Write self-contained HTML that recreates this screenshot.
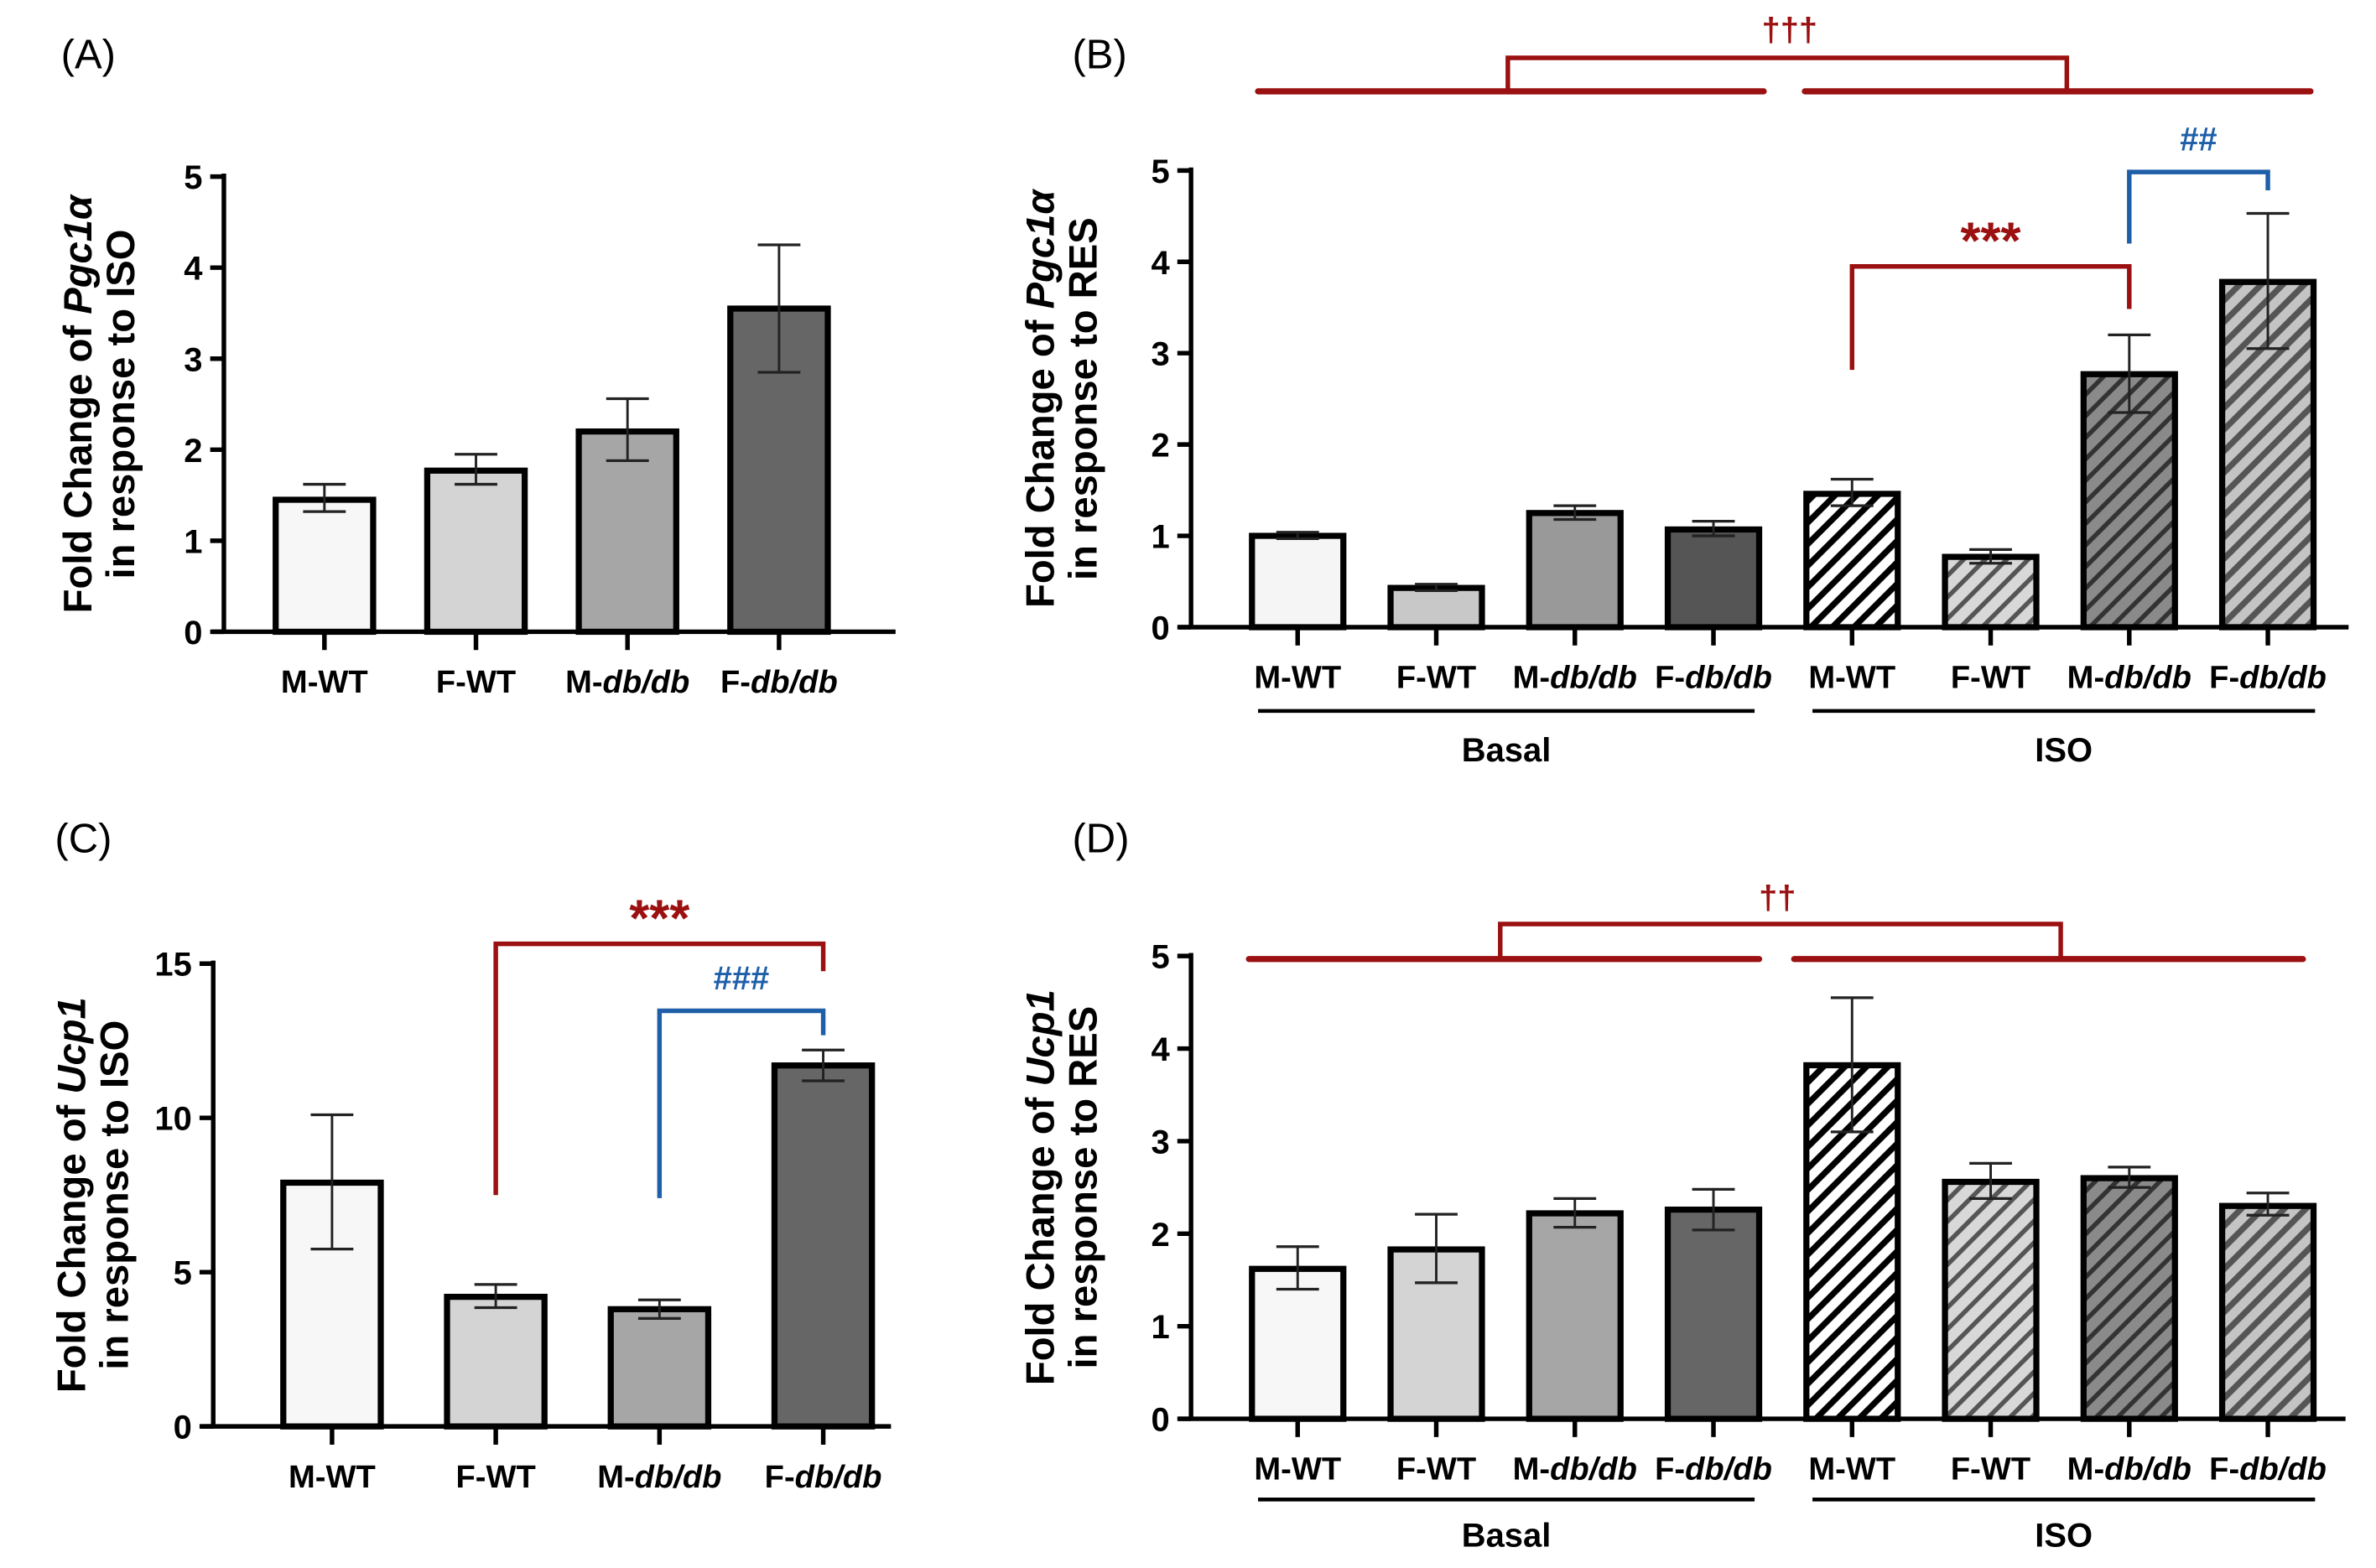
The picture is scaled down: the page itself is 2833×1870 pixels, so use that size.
<!DOCTYPE html>
<html><head><meta charset="utf-8"><style>
html,body{margin:0;padding:0;background:#fff}
svg{display:block}
text{font-family:"Liberation Sans",Arial,sans-serif;font-weight:bold}
text.pl{font-weight:normal}
</style></head><body>
<svg id="fig" xmlns="http://www.w3.org/2000/svg" width="2833" height="1870" viewBox="0 0 1560 1030" preserveAspectRatio="none">
<defs>
<pattern id="h0" patternUnits="userSpaceOnUse" width="10" height="10" patternTransform="rotate(45)"><rect width="10" height="10" fill="#fff"/><rect width="4" height="10" fill="#000"/></pattern>
<pattern id="h1" patternUnits="userSpaceOnUse" width="10" height="10" patternTransform="rotate(45)"><rect width="10" height="10" fill="#d8d8d8"/><rect width="3" height="10" fill="#555"/></pattern>
<pattern id="h2" patternUnits="userSpaceOnUse" width="10" height="10" patternTransform="rotate(45)"><rect width="10" height="10" fill="#8a8a8a"/><rect width="3" height="10" fill="#333"/></pattern>
<pattern id="h3" patternUnits="userSpaceOnUse" width="10" height="10" patternTransform="rotate(45)"><rect width="10" height="10" fill="#c4c4c4"/><rect width="4" height="10" fill="#555"/></pattern>
</defs>
<g id="root"></g>
</svg>
<script>
// ---- data ----
const catsA = ["M-WT","F-WT","M-db/db","F-db/db"];
const valsA = [1.45,1.77,2.2,3.55];
const loA = [1.32,1.62,1.88,2.85];
const hiA = [1.62,1.95,2.56,4.25];
const ticksA = [0,1,2,3,4,5];

const catsB = ["M-WT","F-WT","M-db/db","F-db/db","M-WT","F-WT","M-db/db","F-db/db"];
const valsB = [1.0,0.43,1.25,1.07,1.46,0.77,2.77,3.78];
const loB = [0.97,0.40,1.18,1.00,1.33,0.70,2.35,3.05];
const hiB = [1.04,0.47,1.33,1.16,1.62,0.85,3.20,4.53];
const ticksB = [0,1,2,3,4,5];

const catsC = ["M-WT","F-WT","M-db/db","F-db/db"];
const valsC = [7.9,4.2,3.8,11.7];
const loC = [5.75,3.85,3.5,11.2];
const hiC = [10.1,4.6,4.1,12.2];
const ticksC = [0,5,10,15];

const catsD = ["M-WT","F-WT","M-db/db","F-db/db","M-WT","F-WT","M-db/db","F-db/db"];
const valsD = [1.62,1.83,2.22,2.26,3.82,2.56,2.6,2.3];
const loD = [1.4,1.47,2.07,2.04,3.1,2.38,2.5,2.2];
const hiD = [1.86,2.21,2.38,2.48,4.55,2.76,2.72,2.44];
const ticksD = [0,1,2,3,4,5];

const NS="http://www.w3.org/2000/svg";
const root=document.getElementById('root');
function mk(tag,attrs,parent){const e=document.createElementNS(NS,tag);for(const k in attrs)e.setAttribute(k,attrs[k]);(parent||root).appendChild(e);return e;}
function catText(g,x,y,label){
  const t=mk('text',{x:x,y:y,'text-anchor':'middle','font-size':21},g);
  const m=label.match(/^([MF]-)(db\/db)$/);
  if(m){const a=mk('tspan',{},t);a.textContent=m[1];const b=mk('tspan',{'font-style':'italic'},t);b.textContent=m[2];}
  else t.textContent=label;
  return t;
}
const fillsPlain=["#f7f7f7","#d4d4d4","#a6a6a6","#666666"];
const fillsB=["#f5f5f5","#c8c8c8","#999999","#555555","url(#h0)","url(#h1)","url(#h2)","url(#h3)"];

function panel(id,cfg,cats,vals,lo,hi,ticks){
  const g=mk('g',{});
  
  
  const ymax=ticks[ticks.length-1];
  const y=v=>cfg.y0-(cfg.y0-cfg.yTop)*v/ymax;
  const x=i=>cfg.c0+i*cfg.step;
  const ya=mk('line',{x1:cfg.ax,y1:cfg.yTop-2,x2:cfg.ax,y2:cfg.y0,stroke:'#000','stroke-width':3},g);
  
  const xa=mk('line',{x1:cfg.ax-8,y1:cfg.y0,x2:cfg.xEnd,y2:cfg.y0,stroke:'#000','stroke-width':3},g);
  
  ticks.forEach(t=>{
    mk('line',{x1:cfg.ax-9,y1:y(t),x2:cfg.ax,y2:y(t),stroke:'#000','stroke-width':3},g);
    const tl=mk('text',{x:cfg.ax-14,y:y(t)+8,'text-anchor':'end','font-size':22},g);
    
    tl.textContent=t;
  });
  cats.forEach((c,i)=>{
    const cx=x(i);
    const bar=mk('rect',{x:cx-cfg.bw/2,y:y(vals[i]),width:cfg.bw,height:cfg.y0-y(vals[i]),fill:cfg.fills[i],stroke:'#000','stroke-width':4},g);
    
    mk('line',{x1:cx,y1:y(lo[i]),x2:cx,y2:y(hi[i]),stroke:'#222','stroke-width':1.6},g);
    mk('line',{x1:cx-14,y1:y(hi[i]),x2:cx+14,y2:y(hi[i]),stroke:'#222','stroke-width':1.8},g);
    mk('line',{x1:cx-14,y1:y(lo[i]),x2:cx+14,y2:y(lo[i]),stroke:'#222','stroke-width':1.8},g);
    mk('line',{x1:cx,y1:cfg.y0,x2:cx,y2:cfg.y0+12,stroke:'#000','stroke-width':3},g);
    const cl=catText(g,cx,cfg.y0+40,c);
    
  });
  const tt=mk('text',{transform:`translate(${cfg.tx},${(cfg.yTop+cfg.y0)/2}) rotate(-90)`,'text-anchor':'middle','font-size':26},g);
  
  const a1=mk('tspan',{x:0,y:0},tt);a1.textContent='Fold Change of ';
  const a2=mk('tspan',{'font-style':'italic'},tt);a2.textContent=cfg.gene;
  const a3=mk('tspan',{x:0,y:28},tt);a3.textContent='in response to '+cfg.ref;
  const pl=mk('text',{x:cfg.lx,y:cfg.ly,'font-size':27,'class':'pl'},g);
  
  pl.textContent=cfg.label;
  return {g,x,y};
}
function groupLines(g,yl,ylab,xs){
  [[xs[0],xs[1],'Basal'],[xs[2],xs[3],'ISO']].forEach(([a,b,l])=>{
    const ln=mk('line',{x1:a,y1:yl,x2:b,y2:yl,stroke:'#000','stroke-width':2.5},g);
    
    const t=mk('text',{x:(a+b)/2,y:ylab,'text-anchor':'middle','font-size':22},g);
    
    t.textContent=l;
  });
}
function bracket(g,x1,y1s,x2,y2s,ytop,color,w){
  const p=mk('polyline',{points:`${x1},${y1s} ${x1},${ytop} ${x2},${ytop} ${x2},${y2s}`,fill:'none',stroke:color,'stroke-width':w},g);
  
}
function sig(g,x,y,txt,color,size){
  const t=mk('text',{x:x,y:y,'text-anchor':'middle','font-size':size,fill:color},g);
  
  t.textContent=txt;
}
const RED='#9b1010', BLUE='#1f5fa8';

// Panel A
panel('panel-a',{ax:147,y0:415,yTop:116,xEnd:588,c0:213,step:99.5,bw:64,fills:fillsPlain,tx:60,gene:'Pgc1α',ref:'ISO',label:'(A)',lx:40,ly:45},catsA,valsA,loA,hiA,ticksA);

// Panel B
const pB=panel('panel-b',{ax:782,y0:412,yTop:112,xEnd:1542,c0:852,step:91,bw:60,fills:fillsB,tx:692,gene:'Pgc1α',ref:'RES',label:'(B)',lx:704,ly:45},catsB,valsB,loB,hiB,ticksB);
groupLines(pB.g,467,500,[826,1152,1190,1520]);
mk('line',{x1:826,y1:60,x2:1158,y2:60,stroke:RED,'stroke-width':4,'stroke-linecap':'round'},pB.g);
mk('line',{x1:1185,y1:60,x2:1517,y2:60,stroke:RED,'stroke-width':4,'stroke-linecap':'round'},pB.g);
bracket(pB.g,990,60,1357,60,38,RED,3);
sig(pB.g,1175,27,'†††',RED,22);
bracket(pB.g,pB.x(4),243,pB.x(6),203,175,RED,3);
sig(pB.g,(pB.x(4)+pB.x(6))/2,170,'***',RED,34);
bracket(pB.g,pB.x(6),160,pB.x(7),125,113,BLUE,3);
sig(pB.g,(pB.x(6)+pB.x(7))/2,99,'##',BLUE,22);

// Panel C
const pC=panel('panel-c',{ax:140,y0:937,yTop:633,xEnd:585,c0:218,step:107.5,bw:64,fills:fillsPlain,tx:56,gene:'Ucp1',ref:'ISO',label:'(C)',lx:36,ly:560},catsC,valsC,loC,hiC,ticksC);
bracket(pC.g,pC.x(1),785,pC.x(3),638,620,RED,3);
sig(pC.g,(pC.x(1)+pC.x(3))/2,615,'***',RED,34);
bracket(pC.g,pC.x(2),787,pC.x(3),680,664,BLUE,3);
sig(pC.g,(pC.x(2)+pC.x(3))/2,650,'###',BLUE,22);

// Panel D
const fillsD=["#f7f7f7","#d4d4d4","#a6a6a6","#666666","url(#h0)","url(#h1)","url(#h2)","url(#h3)"];
const pD=panel('panel-d',{ax:782,y0:932,yTop:628,xEnd:1540,c0:852,step:91,bw:60,fills:fillsD,tx:692,gene:'Ucp1',ref:'RES',label:'(D)',lx:704,ly:560},catsD,valsD,loD,hiD,ticksD);
groupLines(pD.g,985,1016,[826,1152,1190,1520]);
mk('line',{x1:820,y1:630,x2:1155,y2:630,stroke:RED,'stroke-width':4,'stroke-linecap':'round'},pD.g);
mk('line',{x1:1178,y1:630,x2:1512,y2:630,stroke:RED,'stroke-width':4,'stroke-linecap':'round'},pD.g);
bracket(pD.g,985,630,1353,630,607,RED,3);
sig(pD.g,1167,597,'††',RED,22);
</script>
</body></html>
